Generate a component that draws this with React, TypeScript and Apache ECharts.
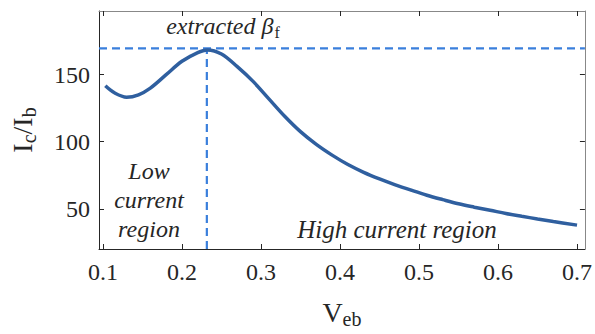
import React, { useEffect, useRef } from "react";
import * as echarts from "echarts";

const vEb = [0.103, 0.115, 0.13, 0.145, 0.16, 0.18, 0.2, 0.22, 0.232, 0.25, 0.27, 0.29, 0.31, 0.33, 0.35, 0.37, 0.39, 0.41, 0.43, 0.45, 0.47, 0.49, 0.51, 0.53, 0.55, 0.57, 0.59, 0.61, 0.63, 0.65, 0.67, 0.7];
const gain = [141.7, 136.3, 133.2, 135, 140, 150, 160, 166.5, 168.5, 165.5, 156, 145, 132, 119, 107.5, 98, 90, 83, 77.2, 72.3, 67.9, 63.9, 60.1, 56.8, 53.7, 51.2, 48.9, 46.5, 44.4, 42.4, 40.5, 37.8];
const xTicks = [0.1, 0.2, 0.3, 0.4, 0.5, 0.6, 0.7];
const yTicks = [50, 100, 150];
const xRange = [0.095, 0.71];
const yRange = [20, 197.5];
const betaF = 169.6;
const peakV = 0.2315;

const FONT = "Liberation Serif";
const TXT = "#262626";

export default function App() {
  const ref = useRef<HTMLDivElement>(null);
  useEffect(() => {
    document.body.style.margin = "0";
    const chart = echarts.init(ref.current!, null, { renderer: "svg" });
    const tickCommon = (vals: number[], color: string) => ({
      show: true,
      inside: true,
      length: 5,
      customValues: vals,
      lineStyle: { color, width: 1 },
    });
    chart.setOption({
      animation: false,
      backgroundColor: "#ffffff",
      grid: { left: 98, top: 11, right: 8, bottom: 81, containLabel: false },
      xAxis: [
        {
          type: "value",
          min: xRange[0],
          max: xRange[1],
          axisLine: { show: true, lineStyle: { color: TXT, width: 1 } },
          axisTick: tickCommon(xTicks, TXT),
          axisLabel: {
            customValues: xTicks,
            margin: 11,
            color: TXT,
            fontFamily: FONT,
            fontSize: 24,
            formatter: (v: number) => String(Math.round(v * 10) / 10),
          },
          splitLine: { show: false },
          name: "{v|V}{s|eb}",
          nameLocation: "middle",
          nameGap: 46,
          nameTextStyle: {
            rich: {
              v: { fontFamily: FONT, fontSize: 28, color: TXT, lineHeight: 30 },
              s: { fontFamily: FONT, fontSize: 20, color: TXT, padding: [14, 0, 0, 0] },
            },
          },
        },
        {
          type: "value",
          position: "top",
          min: xRange[0],
          max: xRange[1],
          axisLine: { show: true, lineStyle: { color: "#888", width: 1 } },
          axisTick: tickCommon(xTicks, TXT),
          axisLabel: { show: false },
          splitLine: { show: false },
        },
      ],
      yAxis: [
        {
          type: "value",
          min: yRange[0],
          max: yRange[1],
          axisLine: { show: true, lineStyle: { color: TXT, width: 1 } },
          axisTick: tickCommon(yTicks, TXT),
          axisLabel: {
            customValues: yTicks,
            margin: 9,
            color: TXT,
            fontFamily: FONT,
            fontSize: 24,
          },
          splitLine: { show: false },
          name: "{v|I}{s|c}{v|/I}{s|b}",
          nameLocation: "middle",
          nameRotate: 90,
          nameGap: 60,
          nameTextStyle: {
            rich: {
              v: { fontFamily: FONT, fontSize: 28, color: TXT, lineHeight: 30 },
              s: { fontFamily: FONT, fontSize: 20, color: TXT, padding: [14, 0, 0, 0] },
            },
          },
        },
        {
          type: "value",
          position: "right",
          min: yRange[0],
          max: yRange[1],
          axisLine: { show: true, lineStyle: { color: "#888", width: 1 } },
          axisTick: tickCommon(yTicks, TXT),
          axisLabel: { show: false },
          splitLine: { show: false },
        },
      ],
      series: [
        {
          type: "line",
          data: [
            [xRange[0], betaF],
            [xRange[1], betaF],
          ],
          symbol: "none",
          lineStyle: { color: "#3a7fdc", width: 2.2, type: [8, 5] },
          z: 2,
        },
        {
          type: "line",
          data: [
            [peakV, yRange[0]],
            [peakV, betaF],
          ],
          symbol: "none",
          lineStyle: { color: "#3a7fdc", width: 2.2, type: [8, 5] },
          z: 2,
        },
        {
          type: "line",
          data: vEb.map((x, i) => [x, gain[i]]),
          symbol: "none",
          smooth: 0.35,
          lineStyle: { color: "#2f5f9f", width: 3.5 },
          z: 3,
        },
      ],
      graphic: [
        {
          type: "text",
          x: 223,
          y: 40,
          style: {
            text: "{a|extracted }{b|β}{s|f}",
            textAlign: "center",
            textVerticalAlign: "bottom",
            rich: {
              a: { fontFamily: FONT, fontStyle: "italic", fontSize: 24, fill: TXT, lineHeight: 26 },
              b: { fontFamily: FONT, fontStyle: "italic", fontSize: 24, fill: TXT, lineHeight: 26 },
              s: { fontFamily: FONT, fontSize: 16, fill: TXT, padding: [12, 0, 0, 1] },
            },
          },
        },
        {
          type: "text",
          x: 149,
          y: 156,
          style: {
            text: "Low\ncurrent\nregion",
            textAlign: "center",
            textVerticalAlign: "top",
            fontFamily: FONT,
            fontStyle: "italic",
            fontSize: 24,
            lineHeight: 29,
            fill: TXT,
          },
        },
        {
          type: "text",
          x: 397,
          y: 229,
          style: {
            text: "High current region",
            textAlign: "center",
            textVerticalAlign: "middle",
            fontFamily: FONT,
            fontStyle: "italic",
            fontSize: 25,
            fill: TXT,
          },
        },
      ],
    });
    return () => chart.dispose();
  }, []);
  return <div ref={ref} style={{ width: 595, height: 334 }} />;
}
